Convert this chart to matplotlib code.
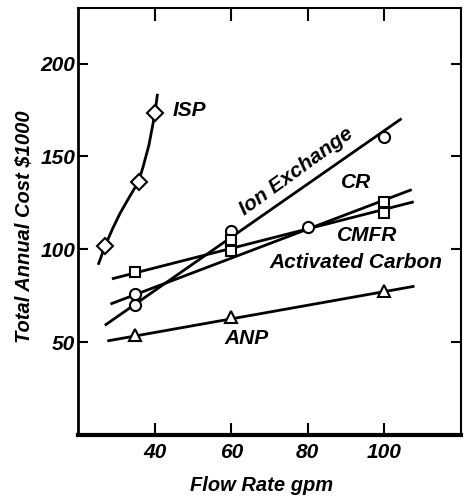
import matplotlib
matplotlib.use("Agg")
import matplotlib.pyplot as plt

plt.rcParams['font.family'] = ['Liberation Sans', 'DejaVu Sans']
plt.rcParams['font.weight'] = 'bold'
plt.rcParams['font.style'] = 'italic'
plt.rcParams['axes.labelweight'] = 'bold'

# ISP (diamonds) and the hand drawn curve through them
isp_x = [27.1, 35.8, 40.1]
isp_y = [102, 136.4, 173.3]
isp_curve_x = [25.4, 27.1, 29.0, 31.0, 33.5, 35.8, 37.0, 38.5, 40.1, 40.7]
isp_curve_y = [92.4, 102, 111, 119.5, 128.5, 136.4, 144.5, 156, 173.3, 183]

# Ion Exchange (circles)
ion_x = [35, 60, 100]
ion_y = [70, 110, 160.5]
ion_line_x = [27.3, 104.2]
ion_line_y = [59.5, 170]

# CR
cr_circle_x = [35, 80]
cr_circle_y = [76, 112]
cr_square_x = [60, 100]
cr_square_y = [99, 125.5]
cr_line_x = [28.8, 106.8]
cr_line_y = [70.8, 131.9]

# CMFR (squares)
cmfr_x = [35, 60, 100]
cmfr_y = [87.6, 104.9, 119.5]
cmfr_line_x = [29.2, 107.3]
cmfr_line_y = [84.3, 125.4]

# ANP (triangles)
anp_x = [35, 60, 100]
anp_y = [54, 63.8, 77.8]
anp_line_x = [28, 107.5]
anp_line_y = [50.8, 80]

x_ticks = [40, 60, 80, 100]
y_ticks = [50, 100, 150, 200]

fig = plt.figure(figsize=(4.68, 4.97), dpi=100)
ax = fig.add_axes([0.1667, 0.1247, 0.8183, 0.8593])

lw = 2.0
ax.plot(isp_curve_x, isp_curve_y, color='black', lw=lw, solid_joinstyle='round')
ax.plot(ion_line_x, ion_line_y, color='black', lw=lw)
ax.plot(cr_line_x, cr_line_y, color='black', lw=lw)
ax.plot(cmfr_line_x, cmfr_line_y, color='black', lw=lw)
ax.plot(anp_line_x, anp_line_y, color='black', lw=lw)

mk = dict(color='none', mfc='white', mec='black', mew=1.5, zorder=5)
ax.plot(isp_x, isp_y, marker='D', ms=8, linestyle='none', **mk)
ax.plot(ion_x, ion_y, marker='o', ms=8, linestyle='none', **mk)
ax.plot(cr_circle_x, cr_circle_y, marker='o', ms=8, linestyle='none', **mk)
ax.plot(cr_square_x, cr_square_y, marker='s', ms=7.5, linestyle='none', **mk)
ax.plot(cmfr_x, cmfr_y, marker='s', ms=7.5, linestyle='none', **mk)
ax.plot(anp_x, anp_y, marker='^', ms=9, linestyle='none', **mk)

fs = 15
ax.text(44.7, 175, 'ISP', fontsize=fs, ha='left', va='center')
ax.text(77, 142, 'Ion Exchange', fontsize=fs, ha='center', va='center', rotation=36)
ax.text(92.5, 136, 'CR', fontsize=fs, ha='center', va='center')
ax.text(95.6, 107.6, 'CMFR', fontsize=fs, ha='center', va='center')
ax.text(92.5, 93, 'Activated Carbon', fontsize=fs, ha='center', va='center')
ax.text(63.9, 52, 'ANP', fontsize=fs, ha='center', va='center')

ax.set_xlim(20, 120)
ax.set_ylim(0, 230)
ax.set_xticks(x_ticks)
ax.set_yticks(y_ticks)
ax.tick_params(axis='both', direction='in', labelsize=fs, width=1.5)
ax.tick_params(axis='x', top=True, length=9, pad=6)
ax.tick_params(axis='y', right=True, length=7, pad=2)

ax.spines['bottom'].set_linewidth(3)
ax.spines['left'].set_linewidth(2)
ax.spines['top'].set_linewidth(1.5)
ax.spines['right'].set_linewidth(1.5)

ax.set_xlabel('Flow Rate gpm', fontsize=14.5)
ax.xaxis.set_label_coords(0.478, -0.095)
ax.set_ylabel('Total Annual Cost $1000', fontsize=14.5)
ax.yaxis.set_label_coords(-0.115, 0.487)

fig.savefig('out.png', dpi=100)
